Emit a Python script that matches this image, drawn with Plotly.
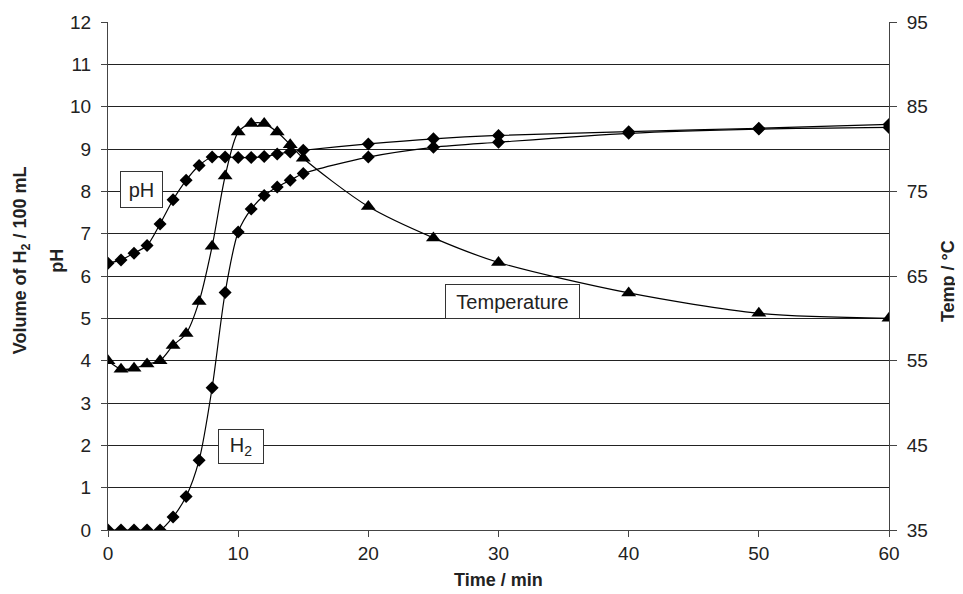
import plotly.graph_objects as go

time_min = [0, 1, 2, 3, 4, 5, 6, 7, 8, 9, 10, 11, 12, 13, 14, 15, 20, 25, 30, 40, 50, 60]
h2_volume = [0, 0, 0, 0, 0, 0.31, 0.79, 1.65, 3.36, 5.61, 7.04, 7.58, 7.90, 8.10, 8.26, 8.42,
             8.81, 9.04, 9.16, 9.37, 9.47, 9.51]
ph_values = [6.30, 6.38, 6.54, 6.72, 7.23, 7.80, 8.26, 8.61, 8.81, 8.81, 8.80, 8.80, 8.82, 8.88,
             8.93, 8.97, 9.12, 9.24, 9.32, 9.41, 9.49, 9.58]
temp_c = [55.0, 54.0, 54.1, 54.6, 55.0, 56.8, 58.2, 62.0, 68.5, 76.8, 82.0, 83.0, 83.0, 82.0,
          80.5, 78.9, 73.2, 69.5, 66.6, 63.0, 60.6, 60.0]

x_ticks = [0, 10, 20, 30, 40, 50, 60]
left_ticks = list(range(0, 13))
right_ticks = [35, 45, 55, 65, 75, 85, 95]

FONT = "Liberation Sans, Arial, sans-serif"
line_style = dict(color="black", width=1.2, shape="spline", smoothing=0.8)

fig = go.Figure()
fig.add_trace(go.Scatter(x=time_min, y=h2_volume, mode="lines+markers", name="H2",
                         line=line_style,
                         marker=dict(symbol="diamond", size=10, color="black")))
fig.add_trace(go.Scatter(x=time_min, y=ph_values, mode="lines+markers", name="pH",
                         line=line_style,
                         marker=dict(symbol="diamond", size=10, color="black")))
fig.add_trace(go.Scatter(x=time_min, y=temp_c, mode="lines+markers", name="Temperature",
                         yaxis="y2", line=line_style,
                         marker=dict(symbol="triangle-up", size=13, color="black")))

box = dict(showarrow=False, bordercolor="#333", borderwidth=1, bgcolor="white",
           font=dict(family=FONT, size=20, color="#222"), xref="x", yref="y")
annotations = [
    dict(x=2.6, y=8.05, text="pH", width=39, height=33, **box),
    dict(x=10.2, y=1.97, text="H<sub>2</sub>", width=42, height=31, **box),
    dict(x=31.1, y=5.40, text="Temperature", width=131, height=31, **box),
    dict(xref="paper", yref="paper", x=0, y=0.53, xshift=-100, textangle=-90,
         text="<b>Volume of H<sub>2</sub> / 100 mL</b>", showarrow=False,
         font=dict(family=FONT, size=18, color="#222")),
    dict(xref="paper", yref="paper", x=0, y=0.53, xshift=-63, textangle=-90,
         text="<b>pH</b>", showarrow=False,
         font=dict(family=FONT, size=18, color="#222")),
    dict(xref="paper", yref="paper", x=1, y=0.49, xshift=71, textangle=-90,
         text="<b>Temp / °C</b>", showarrow=False,
         font=dict(family=FONT, size=18, color="#222")),
    dict(xref="paper", yref="paper", x=0.5, y=0, yshift=-62,
         text="<b>Time / min</b>", showarrow=False,
         font=dict(family=FONT, size=18, color="#222")),
]

# page body has an 8px margin, so the figure is sized to fit the 963x594 window
fig.update_layout(
    width=955, height=586,
    margin=dict(l=100, r=74, t=14, b=64, autoexpand=False),
    paper_bgcolor="white", plot_bgcolor="white",
    showlegend=False,
    font=dict(family=FONT, size=19, color="#222"),
    annotations=annotations,
    xaxis=dict(range=[0, 60], tickvals=x_ticks, ticks="outside", ticklen=6,
               tickcolor="#444", showgrid=False, zeroline=False, automargin=False,
               showline=True, linecolor="#444", linewidth=1,
               tickfont=dict(size=19)),
    yaxis=dict(range=[0, 12], tickvals=left_ticks, ticks="outside", ticklen=6,
               tickcolor="#444", showgrid=True, gridcolor="#222", gridwidth=1,
               zeroline=False, showline=True, linecolor="#444", linewidth=1,
               automargin=False, tickfont=dict(size=19), ticklabelstandoff=6),
    yaxis2=dict(range=[35, 95], tickvals=right_ticks, overlaying="y", side="right",
                ticks="outside", ticklen=7, tickcolor="#444", showgrid=False,
                zeroline=False, showline=True, linecolor="#444", linewidth=1,
                automargin=False, tickfont=dict(size=19), ticklabelstandoff=6),
)

fig.write_html("out.html")
